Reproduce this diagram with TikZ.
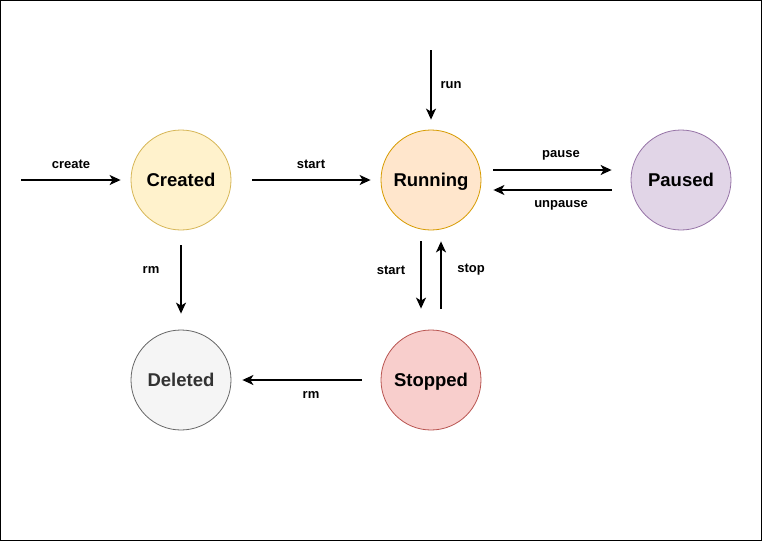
\documentclass[tikz,border=0pt]{standalone}
\usepackage{fontspec}
\setmainfont{Liberation Sans}
\usetikzlibrary{arrows.meta}
\definecolor{cfill}{HTML}{FFF2CC}\definecolor{cdraw}{HTML}{D6B656}
\definecolor{rfill}{HTML}{FFE6CC}\definecolor{rdraw}{HTML}{D79B00}
\definecolor{pfill}{HTML}{E1D5E7}\definecolor{pdraw}{HTML}{9673A6}
\definecolor{dfill}{HTML}{F5F5F5}\definecolor{ddraw}{HTML}{666666}\definecolor{dtext}{HTML}{333333}
\definecolor{sfill}{HTML}{F8CECC}\definecolor{sdraw}{HTML}{B85450}
\tikzset{
  state/.style={circle, minimum size=100pt, inner sep=0pt, line width=0.8pt,
    text height=13.3pt, text depth=0pt,
    font=\fontsize{18.5}{20}\selectfont\bfseries},
  conn/.style={line width=1.5pt, -{Stealth[length=11pt,width=10pt,inset=3pt]}},
  lbl/.style={font=\fontsize{13}{15}\selectfont\bfseries, inner sep=0pt}
}
\begin{document}
\begin{tikzpicture}[x=1pt,y=-1pt]
\useasboundingbox (0,0) rectangle (762,541);
\draw[line width=1pt] (0.5,0.5) rectangle (761.5,540.5);
\node[state, fill=cfill, draw=cdraw] (created) at (181,180) {Created};
\node[state, fill=rfill, draw=rdraw] (running) at (431,180) {Running};
\node[state, fill=pfill, draw=pdraw] (paused) at (681,180) {Paused};
\node[state, fill=dfill, draw=ddraw, text=dtext] (deleted) at (181,380) {Deleted};
\node[state, fill=sfill, draw=sdraw] (stopped) at (431,380) {Stopped};
\coordinate (cin) at (21,180);
\coordinate (rin) at (431,50);
% create
\draw[conn, shorten >=10pt] (cin) -- (created.west);
\node[lbl] (lcreate) at (71,164) {create};
% start
\draw[conn, shorten <=21pt, shorten >=10pt] (created.east) -- (running.west);
\node[lbl] (lstart) at (311,164) {start};
% run
\draw[conn, shorten >=10pt] (rin) -- (running.north);
\node[lbl] (lrun) at (451,85) {run};
% pause / unpause
\draw[conn, shorten <=12pt, shorten >=19pt] ([yshift=10pt]running.east) -- ([yshift=10pt]paused.west);
\node[lbl] (lpause) at (561,155) {pause};
\draw[conn, shorten <=19pt, shorten >=12pt] ([yshift=-10pt]paused.west) -- ([yshift=-10pt]running.east);
\node[lbl] (lunpause) at (561,205) {unpause};
% rm from created
\draw[conn, shorten <=15pt, shorten >=16pt] (created.south) -- (deleted.north);
\node[lbl] (lrm1) at (151,270) {rm};
% start down / stop up
\draw[conn, shorten <=11pt, shorten >=21pt] ([xshift=-10pt]running.south) -- ([xshift=-10pt]stopped.north);
\node[lbl] (lstart2) at (391,270) {start};
\draw[conn, shorten <=21pt, shorten >=11pt] ([xshift=10pt]stopped.north) -- ([xshift=10pt]running.south);
\node[lbl] (lstop) at (471,270) {stop};
% rm from stopped
\draw[conn, shorten <=19pt, shorten >=11pt] (stopped.west) -- (deleted.east);
\node[lbl] (lrm2) at (311,395) {rm};
\end{tikzpicture}
\end{document}
